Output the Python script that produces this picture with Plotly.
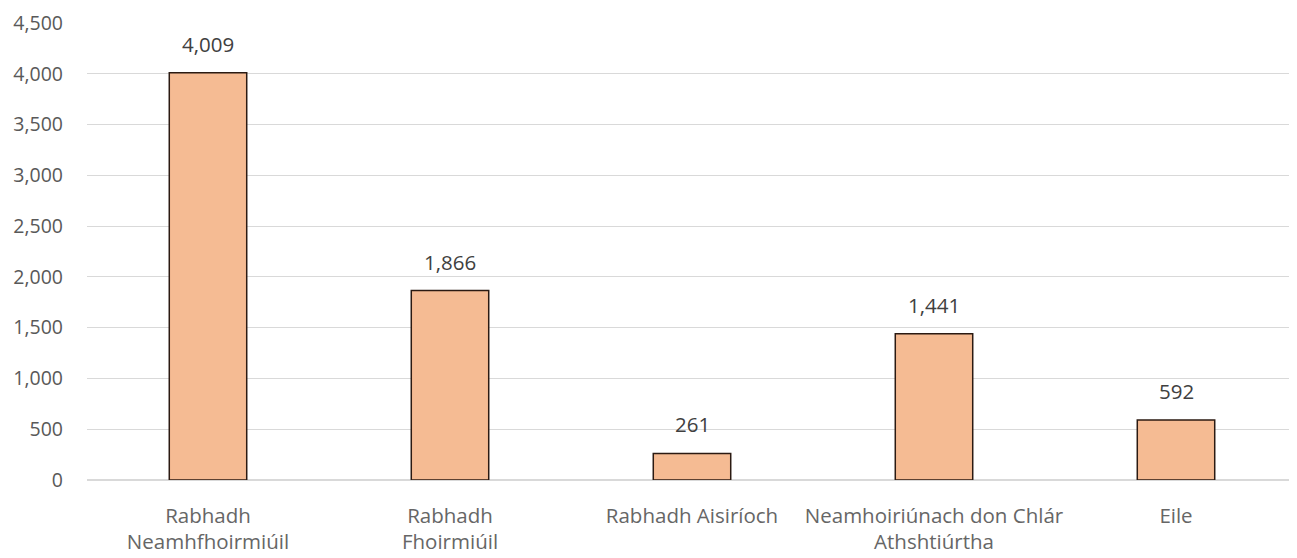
import plotly.graph_objects as go

categories = ["Rabhadh<br>Neamhfhoirmiúil", "Rabhadh<br>Fhoirmiúil", "Rabhadh Aisiríoch",
              "Neamhoiriúnach don Chlár<br>Athshtiúrtha", "Eile"]
values = [4009, 1866, 261, 1441, 592]
value_labels = ["4,009", "1,866", "261", "1,441", "592"]
y_ticks = [0, 500, 1000, 1500, 2000, 2500, 3000, 3500, 4000, 4500]

fig = go.Figure(go.Bar(
    x=categories, y=values,
    marker=dict(color="#F5BB93", line=dict(color="#2b1a12", width=1.5)),
    cliponaxis=False,
))
for c, v, t in zip(categories, values, value_labels):
    fig.add_annotation(x=c, y=v, text=t, showarrow=False, yanchor="bottom", yshift=13,
                       font=dict(family="Open Sans", size=20.5, color="#404040"))
fig.update_layout(
    width=1289, height=550,
    margin=dict(l=79, r=0, t=15, b=78, autoexpand=False),
    paper_bgcolor="white", plot_bgcolor="white",
    bargap=0.68,
    showlegend=False,
    font=dict(family="Open Sans", size=19, color="#595959"),
    yaxis=dict(range=[0, 4500], tickvals=y_ticks, tickformat=",", automargin=False,
               gridcolor="#d9d9d9", gridwidth=1, zeroline=True, zerolinecolor="#d9d9d9",
               ticks="", ticklabelstandoff=23, tickfont=dict(size=19.5, color="#595959")),
    xaxis=dict(showgrid=False, ticks="", automargin=False, ticklabelstandoff=21,
               tickfont=dict(size=20.5, color="#666666"), showline=False),
)
fig.write_html("out.html")
